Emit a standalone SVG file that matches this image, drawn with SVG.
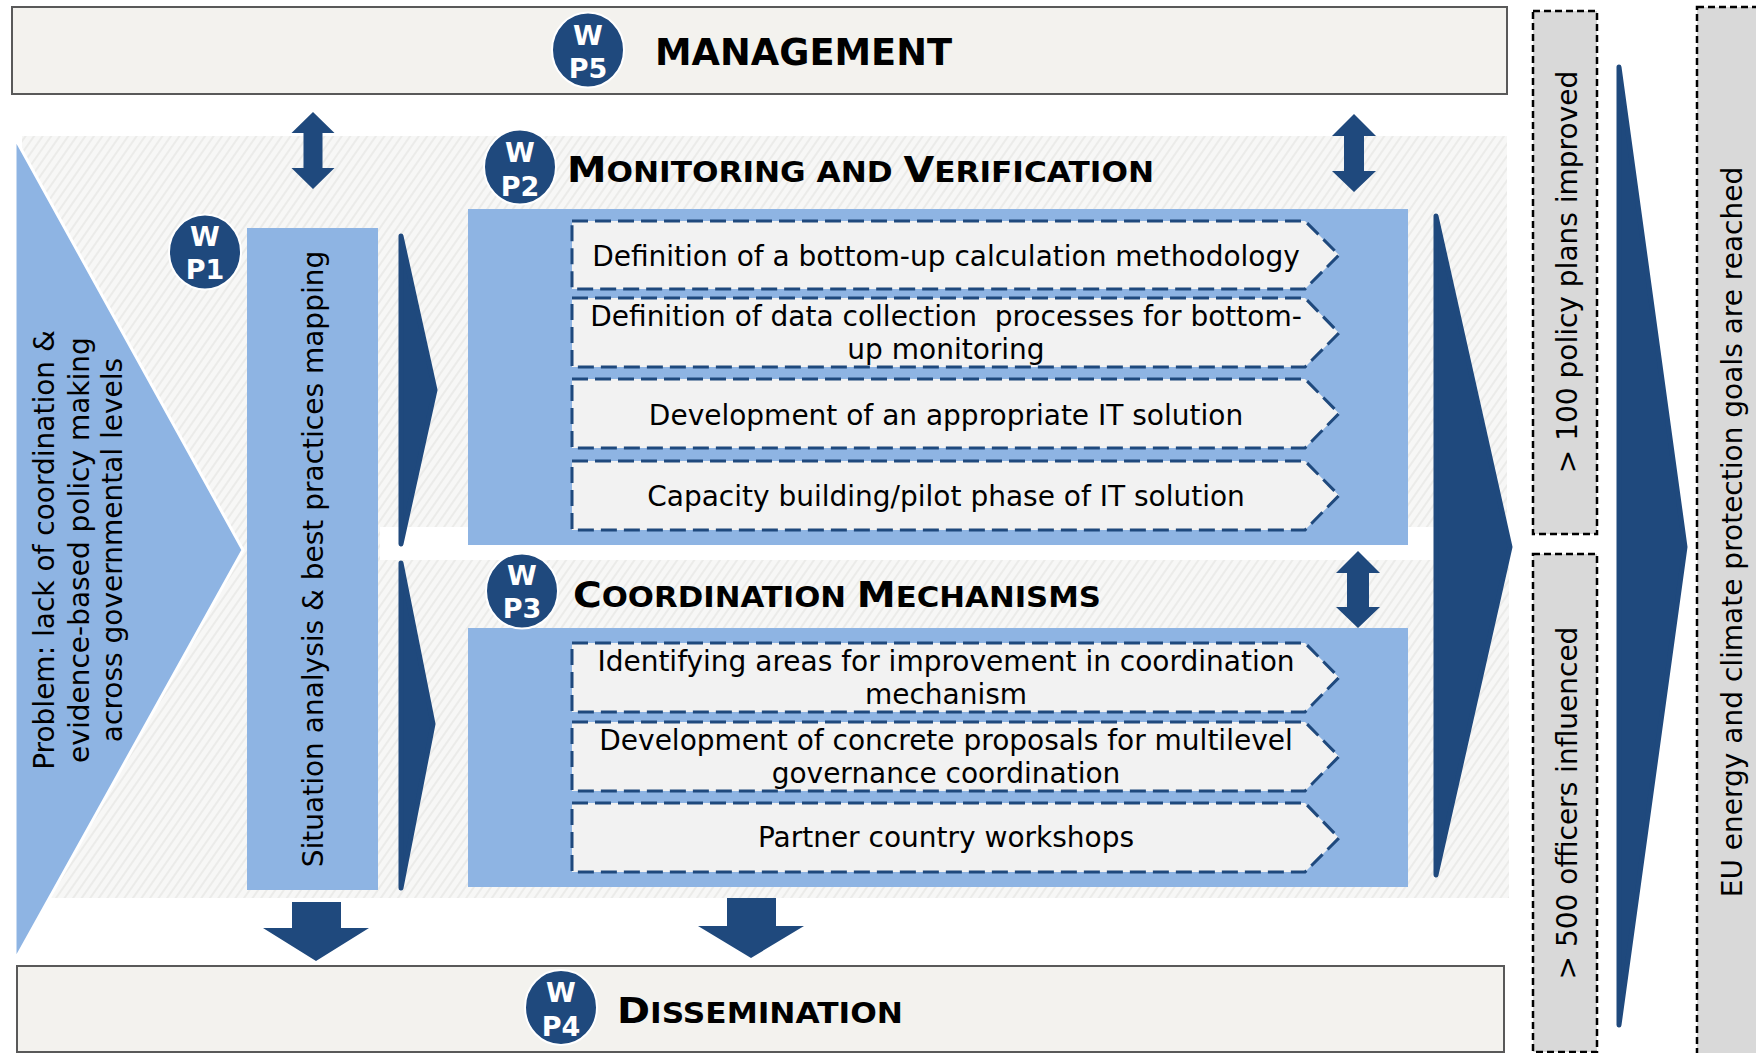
<svg xmlns="http://www.w3.org/2000/svg" width="1756" height="1053" viewBox="0 0 1756 1053">
<defs>
<pattern id="hatch" width="7" height="7" patternUnits="userSpaceOnUse" patternTransform="rotate(35)">
<rect width="7" height="7" fill="#f7f7f6"/>
<line x1="1" y1="0" x2="1" y2="7" stroke="#ebebe9" stroke-width="2"/>
</pattern>
<style>
.t{font-family:"DejaVu Sans",Verdana,sans-serif;font-size:28px;fill:#000}
.c{text-anchor:middle}
.h{font-family:"DejaVu Sans",Verdana,sans-serif;font-weight:bold;fill:#000}
.L{font-size:35px}
.s{font-size:27.5px}
.wp{font-family:"DejaVu Sans",Verdana,sans-serif;font-weight:bold;font-size:27px;fill:#fff;text-anchor:middle}
.circ{fill:#1f497d;stroke:#fff;stroke-width:2}
.lb{fill:#8eb4e3}
.db{fill:#1f497d}
.chev{fill:#1f497d;stroke:#1f497d;stroke-width:5;stroke-linejoin:round}
.item{fill:#f2f2f2;stroke:#1f497d;stroke-width:3;stroke-dasharray:16 7}
.band{fill:#f3f2ee;stroke:#595959;stroke-width:2}
.out{fill:#d9d9d9;stroke:#000;stroke-width:2.5;stroke-dasharray:7 4}
.hb{fill:url(#hatch)}
</style>
</defs>
<rect width="1756" height="1053" fill="#fff"/>

<g id="background">
<rect class="hb" x="22" y="136" width="1485" height="391"/>
<rect class="hb" x="22" y="527" width="358" height="33"/>
<rect class="hb" x="22" y="560" width="1487" height="338"/>
</g>

<g id="outcome-100">
<rect class="out" x="1533" y="11" width="64" height="523"/>
<text class="t c" transform="rotate(-90 1577 272)" x="1577" y="272">&gt; 100 policy plans improved</text>
</g>
<g id="outcome-500">
<rect class="out" x="1533" y="554" width="64" height="498"/>
<text class="t c" transform="rotate(-90 1577 803)" x="1577" y="803">&gt; 500 officers influenced</text>
</g>
<g id="goal">
<rect class="out" x="1697" y="7" width="80" height="1060"/>
<text class="t c" transform="rotate(-90 1742 532)" x="1742" y="532">EU energy and climate protection goals are reached</text>
</g>

<g id="problem">
<polygon class="lb" points="15,138 243,550 15,960" stroke="#fff" stroke-width="3" stroke-linejoin="miter"/>
<text class="t c" transform="rotate(-90 54 550)" x="54" y="550">Problem: lack of coordination &amp;</text>
<text class="t c" transform="rotate(-90 89 550)" x="89" y="550">evidence-based policy making</text>
<text class="t c" transform="rotate(-90 122 550)" x="122" y="550">across governmental levels</text>
</g>

<g id="wp5-management">
<rect class="band" x="12" y="7" width="1495" height="87"/>
<ellipse class="circ" cx="588" cy="50" rx="36" ry="37.5"/>
<text class="wp" x="588" y="45">W</text>
<text class="wp" x="588" y="78">P5</text>
<text class="h" x="655" y="65" font-size="37" textLength="297" lengthAdjust="spacingAndGlyphs">MANAGEMENT</text>
</g>

<g id="wp1-situation">
<rect class="lb" x="247" y="228" width="131" height="662"/>
<text class="t c" transform="rotate(-90 323 559)" x="323" y="559">Situation analysis &amp; best practices mapping</text>
<ellipse class="circ" cx="205" cy="252" rx="36" ry="37.5"/>
<text class="wp" x="205" y="246">W</text>
<text class="wp" x="205" y="279">P1</text>
</g>

<g id="wp2-monitoring">
<rect class="lb" x="468" y="209" width="940" height="336"/>
<ellipse class="circ" cx="520" cy="167" rx="36" ry="37.5"/>
<text class="wp" x="520" y="162">W</text>
<text class="wp" x="520" y="196">P2</text>
<text class="h" x="567" y="182" textLength="587" lengthAdjust="spacingAndGlyphs"><tspan class="L">M</tspan><tspan class="s">ONITORING AND </tspan><tspan class="L">V</tspan><tspan class="s">ERIFICATION</tspan></text>
<g id="wp2-item1">
<path class="item" d="M572,221 H1305 L1339,255 L1305,289 H572 Z"/>
<text class="t c" x="946" y="265.5">Definition of a bottom-up calculation methodology</text>
</g>
<g id="wp2-item2">
<path class="item" d="M572,298 H1305 L1339,333 L1305,367 H572 Z"/>
<text class="t c" x="946" y="326" xml:space="preserve">Definition of data collection  processes for bottom-</text>
<text class="t c" x="946" y="359">up monitoring</text>
</g>
<g id="wp2-item3">
<path class="item" d="M572,379 H1305 L1339,413.5 L1305,448 H572 Z"/>
<text class="t c" x="946" y="425">Development of an appropriate IT solution</text>
</g>
<g id="wp2-item4">
<path class="item" d="M572,461 H1305 L1339,495.5 L1305,530 H572 Z"/>
<text class="t c" x="946" y="506">Capacity building/pilot phase of IT solution</text>
</g>
</g>

<g id="wp3-coordination">
<rect class="lb" x="468" y="628" width="940" height="259"/>
<ellipse class="circ" cx="522" cy="591" rx="36" ry="37.5"/>
<text class="wp" x="522" y="585">W</text>
<text class="wp" x="522" y="618">P3</text>
<text class="h" x="573" y="607" textLength="528" lengthAdjust="spacingAndGlyphs"><tspan class="L">C</tspan><tspan class="s">OORDINATION </tspan><tspan class="L">M</tspan><tspan class="s">ECHANISMS</tspan></text>
<g id="wp3-item1">
<path class="item" d="M572,643 H1305 L1339,677.5 L1305,712 H572 Z"/>
<text class="t c" x="946" y="670.5">Identifying areas for improvement in coordination</text>
<text class="t c" x="946" y="704">mechanism</text>
</g>
<g id="wp3-item2">
<path class="item" d="M572,722 H1305 L1339,756.5 L1305,791 H572 Z"/>
<text class="t c" x="946" y="750">Development of concrete proposals for multilevel</text>
<text class="t c" x="946" y="783">governance coordination</text>
</g>
<g id="wp3-item3">
<path class="item" d="M572,803 H1305 L1339,838 L1305,872 H572 Z"/>
<text class="t c" x="946" y="847">Partner country workshops</text>
</g>
</g>

<g id="wp4-dissemination">
<rect class="band" x="17" y="966" width="1487" height="86"/>
<ellipse class="circ" cx="561" cy="1007.5" rx="36" ry="37.5"/>
<text class="wp" x="561" y="1002">W</text>
<text class="wp" x="561" y="1036">P4</text>
<text class="h" x="617" y="1023" textLength="286" lengthAdjust="spacingAndGlyphs"><tspan class="L">D</tspan><tspan class="s">ISSEMINATION</tspan></text>
</g>

<g id="connectors">
<path class="db" d="M313,112 L334.5,133 L322.5,133 L322.5,168 L334.5,168 L313,189 L291.5,168 L303.5,168 L303.5,133 L291.5,133 Z"/>
<path class="db" d="M1354,114 L1376,136 L1364,136 L1364,171 L1376,171 L1354,192 L1332,171 L1344,171 L1344,136 L1332,136 Z"/>
<path class="db" d="M1358,551 L1380,573 L1369,573 L1369,607 L1380,607 L1358,628 L1336,607 L1347,607 L1347,573 L1336,573 Z"/>
<path class="db" d="M292,902 H341 V928 H369 L316,961 L263,928 H292 Z"/>
<path class="db" d="M727,898 H776 V926 H804 L751,958 L698,926 H727 Z"/>
<path class="chev" d="M401,236 L435,390 L401,544 Z"/>
<path class="chev" d="M401,563 L433,724 L401,888 Z"/>
<path class="chev" d="M1436,216 L1510,547 L1436,875 Z"/>
<path class="chev" d="M1619,67 L1685,547 L1619,1025 Z"/>
</g>
</svg>
